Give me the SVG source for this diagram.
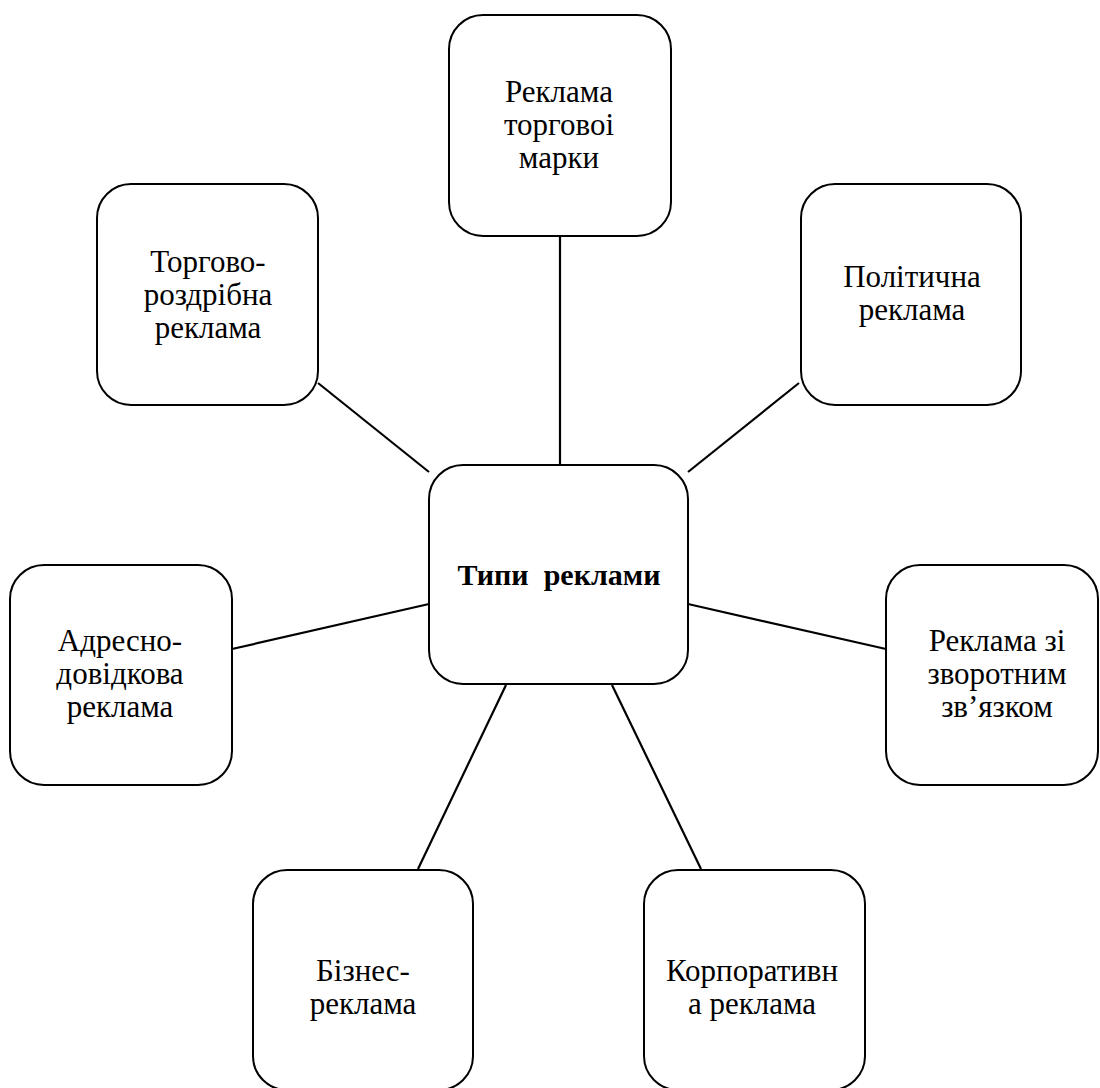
<svg xmlns="http://www.w3.org/2000/svg" width="1100" height="1088" viewBox="0 0 1100 1088">
<style>
.box{fill:#fff;stroke:#000;stroke-width:2}
.t{font-family:"Liberation Serif","Times New Roman",serif;font-size:31px;fill:#000;text-anchor:middle}
.b{font-size:30px;font-weight:bold;white-space:pre}
.c line{stroke:#000;stroke-width:2.2}
</style>
<rect width="1100" height="1088" fill="#fff"/>
<g class="c" id="connectors">
<line x1="560" y1="236" x2="560" y2="465"/>
<line x1="318" y1="383" x2="429" y2="472"/>
<line x1="799" y1="383" x2="688" y2="472"/>
<line x1="232" y1="649" x2="429" y2="604"/>
<line x1="688" y1="604" x2="886" y2="649"/>
<line x1="506" y1="685" x2="418" y2="869"/>
<line x1="612" y1="685" x2="701" y2="869"/>
</g>
<g id="center">
<rect class="box" x="429" y="465" width="259" height="219" rx="34"/>
<text class="t b" x="559" y="585" xml:space="preserve">Типи  реклами</text>
</g>
<g id="n-top">
<rect class="box" x="449" y="15" width="222" height="221" rx="34"/>
<text class="t" x="559" y="102">Реклама</text>
<text class="t" x="559" y="135">торговоі</text>
<text class="t" x="559" y="168">марки</text>
</g>
<g id="n-topleft">
<rect class="box" x="97" y="184" width="221" height="221" rx="34"/>
<text class="t" x="208" y="272">Торгово-</text>
<text class="t" x="208" y="305">роздрібна</text>
<text class="t" x="208" y="338">реклама</text>
</g>
<g id="n-topright">
<rect class="box" x="801" y="184" width="220" height="221" rx="34"/>
<text class="t" x="912" y="287">Політична</text>
<text class="t" x="912" y="320">реклама</text>
</g>
<g id="n-left">
<rect class="box" x="10" y="565" width="222" height="220" rx="34"/>
<text class="t" x="120" y="651">Адресно-</text>
<text class="t" x="120" y="684">довідкова</text>
<text class="t" x="120" y="717">реклама</text>
</g>
<g id="n-right">
<rect class="box" x="886" y="565" width="212" height="220" rx="34"/>
<text class="t" x="997" y="651">Реклама зі</text>
<text class="t" x="997" y="684">зворотним</text>
<text class="t" x="997" y="717">зв’язком</text>
</g>
<g id="n-bottomleft">
<rect class="box" x="253" y="870" width="220" height="220" rx="34"/>
<text class="t" x="363" y="981">Бізнес-</text>
<text class="t" x="363" y="1014">реклама</text>
</g>
<g id="n-bottomright">
<rect class="box" x="644" y="870" width="221" height="220" rx="34"/>
<text class="t" x="752" y="981">Корпоративн</text>
<text class="t" x="752" y="1014">а реклама</text>
</g>
</svg>
